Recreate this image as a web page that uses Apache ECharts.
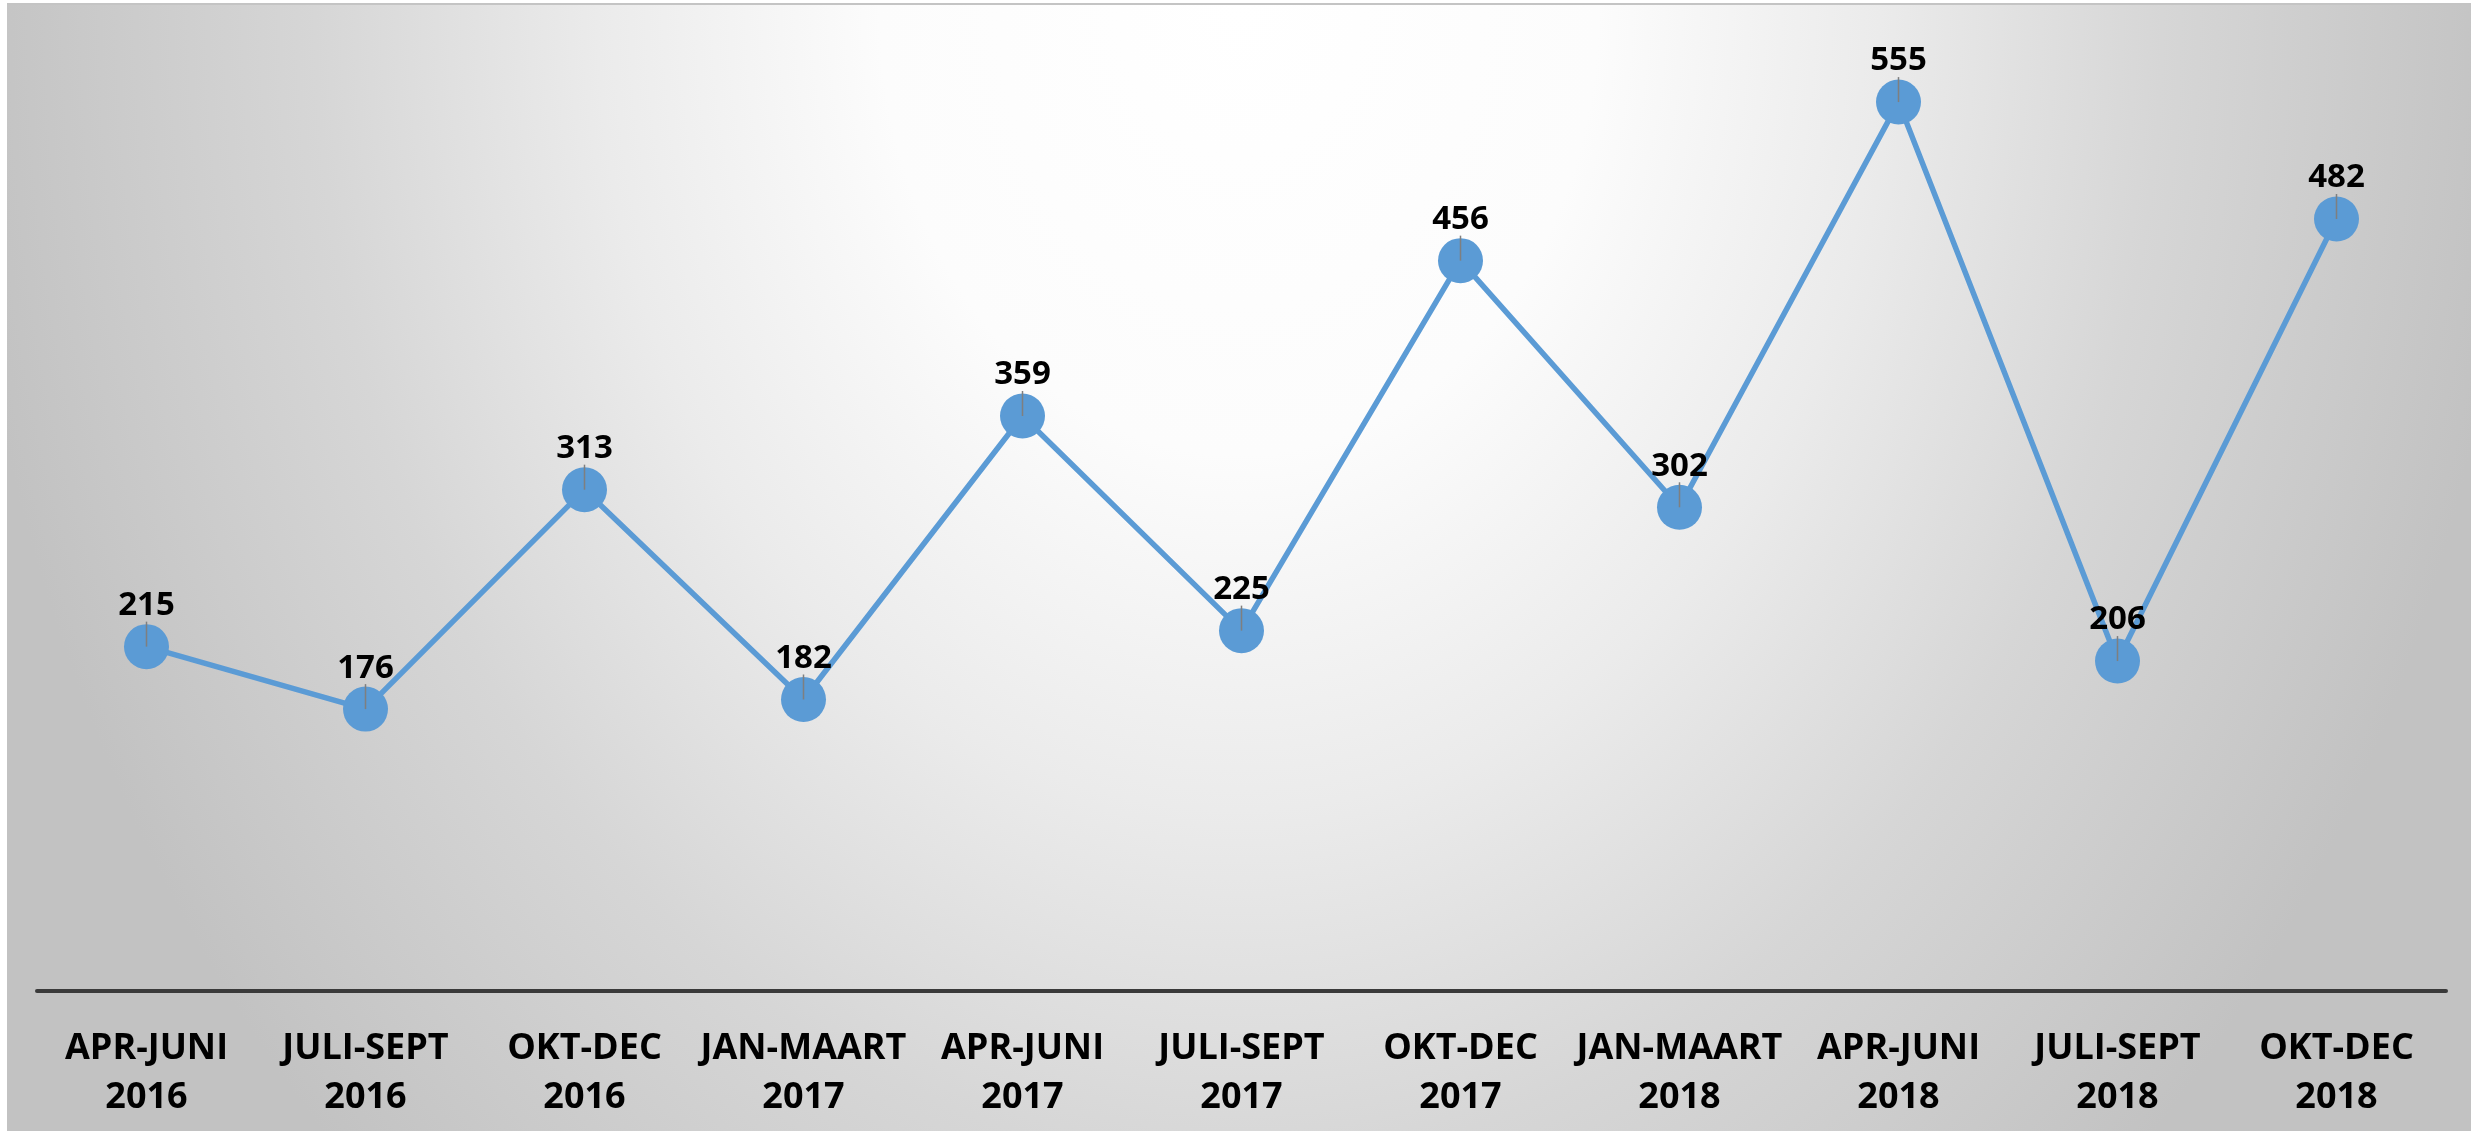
<!DOCTYPE html>
<html>
<head>
<meta charset="utf-8">
<script src="https://cdn.jsdelivr.net/npm/echarts@6/dist/echarts.min.js"></script>
<style>
  html, body { margin: 0; padding: 0; background: #fff; }
  #chart { width: 2471px; height: 1131px; }
</style>
</head>
<body>
<div id="chart"></div>
<script>
// kwartalen + jaar (twee regels per label)
const quarters = ['APR-JUNI', 'JULI-SEPT', 'OKT-DEC', 'JAN-MAART', 'APR-JUNI', 'JULI-SEPT',
  'OKT-DEC', 'JAN-MAART', 'APR-JUNI', 'JULI-SEPT', 'OKT-DEC'];
const years = ['2016', '2016', '2016', '2017', '2017', '2017', '2017', '2018', '2018', '2018', '2018'];
const values = [215, 176, 313, 182, 359, 225, 456, 302, 555, 206, 482];

const categories = quarters.map((q, i) => q + '\n' + years[i]);

const chart = echarts.init(document.getElementById('chart'));

const option = {
  backgroundColor: '#ffffff',
  textStyle: { fontFamily: 'Open Sans' },
  // achtergrond: elliptisch verloop, licht boven in het midden
  graphic: [{
    type: 'rect',
    x: 7,
    y: 3,
    scaleX: (2471 - 7) / 1000,
    scaleY: (1131 - 3) / 364,
    z: -100,
    silent: true,
    shape: { x: 0, y: 0, width: 1000, height: 364 },
    style: {
      fill: {
        type: 'radial', x: 0.5, y: 0, r: 1.43,
        colorStops: [
          { offset: 0, color: '#ffffff' },
          { offset: 0.28, color: '#fcfcfc' },
          { offset: 0.5, color: '#ebebeb' },
          { offset: 0.72, color: '#d6d6d6' },
          { offset: 1, color: '#c2c2c2' }
        ]
      }
    }
  }, {
    type: 'line',
    z: -99,
    silent: true,
    shape: { x1: 7, y1: 4, x2: 2471, y2: 4 },
    style: { stroke: '#c4c4c4', lineWidth: 2 }
  }],
  grid: {
    left: 37,
    right: 25,
    top: 30,
    bottom: 140,
    containLabel: false
  },
  xAxis: {
    type: 'category',
    data: categories,
    boundaryGap: true,
    axisLine: { lineStyle: { color: '#3a3a3a', width: 4 } },
    axisTick: { show: false },
    axisLabel: {
      interval: 0,
      margin: 33,
      color: '#000',
      fontSize: 36,
      fontWeight: 'bold',
      lineHeight: 49,
      fontFamily: 'Open Sans'
    },
    splitLine: { show: false }
  },
  yAxis: {
    type: 'value',
    min: 0,
    max: 600,
    show: false,
    splitLine: { show: false }
  },
  series: [{
    type: 'line',
    data: values,
    symbol: 'circle',
    symbolSize: 45,
    lineStyle: { color: '#5B9BD5', width: 5.5 },
    itemStyle: { color: '#5B9BD5' },
    label: {
      show: true,
      position: 'top',
      distance: 2,
      color: '#000',
      fontSize: 33,
      fontWeight: 'bold',
      fontFamily: 'Open Sans'
    },
    z: 2
  }, {
    // kleine grijze verbindingslijntjes van het label naar het punt
    type: 'custom',
    data: values.map((v, i) => [i, v]),
    z: 5,
    silent: true,
    renderItem: function (params, api) {
      const p = api.coord([api.value(0), api.value(1)]);
      return {
        type: 'line',
        shape: { x1: p[0], y1: p[1], x2: p[0], y2: p[1] - 25 },
        style: { stroke: '#7f7f7f', lineWidth: 1.5 }
      };
    }
  }]
};

chart.setOption(option);
</script>
</body>
</html>
